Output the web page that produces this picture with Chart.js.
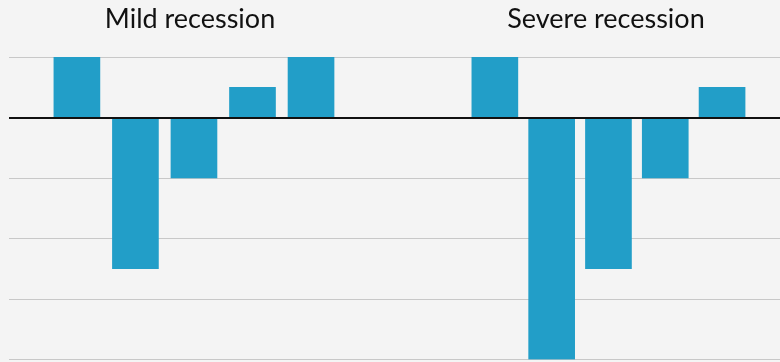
<!DOCTYPE html>
<html>
<head>
<meta charset="utf-8">
<script src="https://cdn.jsdelivr.net/npm/chart.js@4/dist/chart.umd.min.js"></script>
<style>
  html, body { margin: 0; padding: 0; background: #f4f4f4; }
  #wrap { position: relative; width: 780px; height: 362px; overflow: hidden; }
  .panel { position: absolute; top: 0; height: 362px; }
  .panel canvas { display: block; }
  .title {
    position: absolute; top: 1px; width: 300px; margin-left: -150px;
    text-align: center; font: 27px Lato, sans-serif; color: #111; white-space: nowrap;
  }
</style>
</head>
<body>
<div id="wrap">
  <div class="panel" style="left:0;width:400px"><canvas id="mildChart" width="400" height="362"></canvas></div>
  <div class="panel" style="left:400px;width:380px"><canvas id="severeChart" width="380" height="362"></canvas></div>
  <div class="title" id="mild-title" style="left:190px"></div>
  <div class="title" id="severe-title" style="left:606px"></div>
</div>
<script>
// data
const panelTitles = ['Mild recession', 'Severe recession'];
const mildValues = [1, -2.5, -1, 0.5, 1];
const severeValues = [1, -4, -2.5, -1, 0.5];
const yTicks = [1, 0, -1, -2, -3, -4];

const BAR_COLOR = '#229ec8';
const GRID_COLOR = '#c8c8c8';

document.getElementById('mild-title').textContent = panelTitles[0];
document.getElementById('severe-title').textContent = panelTitles[1];

// black zero line drawn over the bars
const zeroLine = {
  id: 'zeroLine',
  afterDatasetsDraw(chart) {
    const { ctx, chartArea, scales } = chart;
    const y = Math.round(scales.y.getPixelForValue(0)) + 1;
    ctx.save();
    ctx.strokeStyle = '#111';
    ctx.lineWidth = 2;
    ctx.beginPath();
    ctx.moveTo(chartArea.left, y);
    ctx.lineTo(chartArea.right, y);
    ctx.stroke();
    ctx.restore();
  }
};

function makePanel(id, values, xMin, xMax, pad) {
  return new Chart(document.getElementById(id), {
    type: 'bar',
    data: {
      datasets: [{
        data: values.map((v, i) => ({ x: i + 1, y: v })),
        backgroundColor: BAR_COLOR,
        borderWidth: 0,
        barThickness: 46
      }]
    },
    options: {
      responsive: false,
      animation: false,
      layout: { padding: pad },
      plugins: { legend: { display: false }, tooltip: { enabled: false } },
      scales: {
        x: { type: 'linear', min: xMin, max: xMax, offset: false, display: false },
        y: {
          min: yTicks[yTicks.length - 1], max: yTicks[0],
          afterBuildTicks: s => { s.ticks = yTicks.map(v => ({ value: v })); },
          ticks: { display: false },
          border: { display: false },
          grid: { color: GRID_COLOR, lineWidth: 1, drawTicks: false }
        }
      }
    },
    plugins: [zeroLine]
  });
}

makePanel('mildChart', mildValues, -0.16, 6.52, { left: 9, right: 0, top: 57, bottom: 2.5 });
makePanel('severeChart', severeValues, -0.67, 6.02, { left: 0, right: 0, top: 57, bottom: 2.5 });
</script>
</body>
</html>
